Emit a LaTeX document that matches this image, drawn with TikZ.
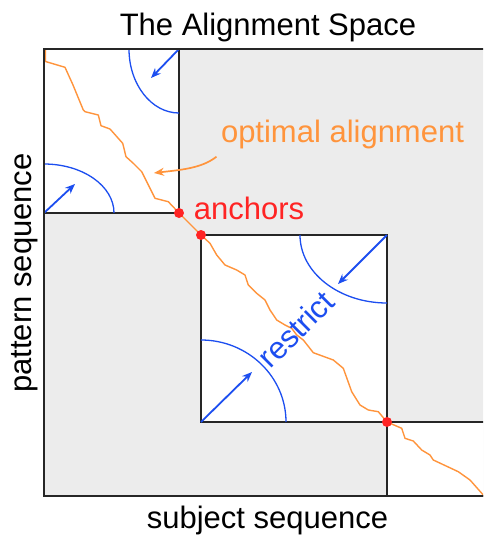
\documentclass[tikz,border=0pt]{standalone}
\usepackage{fontspec}
\setmainfont{Liberation Sans}
\usetikzlibrary{arrows.meta, positioning}

\definecolor{spacegray}{RGB}{236,236,236}
\definecolor{pathorange}{RGB}{255,148,60}
\definecolor{restrictblue}{RGB}{28,78,240}
\definecolor{anchorred}{RGB}{255,36,36}

\begin{document}
\begin{tikzpicture}[x=1pt, y=-1pt,
    label/.style={font=\fontsize{31}{37}\selectfont},
    box/.style={draw=black!85, line width=1.6pt, fill=white},
    contour/.style={draw=restrictblue, line width=1.3pt},
    shrink/.style={draw=restrictblue, line width=1.8pt, -{Stealth[length=10pt, width=8pt]}},
    aligned/.style={draw=pathorange, line width=1.4pt, line join=round},
    anchordot/.style={circle, fill=anchorred, inner sep=0pt, minimum size=10pt}
]
\useasboundingbox (0,0) rectangle (483,536);
\clip (0,0) rectangle (483,536);

% Corners of the space and the anchor points
\coordinate (space nw) at (44,49);
\coordinate (space se) at (495,496);
\coordinate (a1) at (179,213);
\coordinate (a2) at (201,235);
\coordinate (a3) at (387,422);

% Alignment space
\fill[spacegray] (space nw) rectangle (space se);

% Allowed regions
\draw[box] (space nw) rectangle (a1);
\draw[box] (a2) rectangle (a3);
\draw[box] (a3) rectangle (space se);

% Restriction contours, box 1
\draw[contour] (129,49) .. controls (129,84.3) and (151.4,113) .. (179,113);
\draw[contour] (44,164) .. controls (82.7,164) and (114,185.9) .. (114,213);
\coordinate (s1) at (151,78);
\coordinate (s2) at (75,184);
\draw[shrink] (a1 |- space nw) -- (s1);
\draw[shrink] (space nw |- a1) -- (s2);

% Restriction contours, box 2
\draw[contour] (300,235) .. controls (300,272.6) and (339,303) .. (387,303);
\draw[contour] (201,340) .. controls (247.9,340) and (286,376.7) .. (286,422);
\coordinate (s3) at (338,284);
\coordinate (s4) at (252,372);
\draw[shrink] (a3 |- a2) -- (s3);
\draw[shrink] (a2 |- a3) -- (s4);

% Optimal alignment path
\draw[aligned] (45.5,49) -- (45.5,61.5) -- (65,67.3) -- (73,85) -- (83.3,110) -- (85,111.7)
    -- (98.3,115) -- (101,125.7) -- (110,129) -- (122.7,143.3) -- (126,156.7) -- (133.3,163.3)
    -- (141.7,171.7) -- (146.7,181.7) -- (155,198.3) -- (168.3,201.7) -- (a1) -- (a2)
    -- (210,243.3) -- (216.7,255) -- (225,265) -- (236.7,270) -- (245,275) -- (248.3,285)
    -- (256.7,293.3) -- (265,300) -- (270,310) -- (276.7,320) -- (285,325) -- (291.7,328.3)
    -- (296.7,335) -- (303.3,340) -- (313.3,352.7) -- (333.3,360) -- (343.3,368.3)
    -- (351.7,391.7) -- (360,405) -- (368.3,410) -- (378.3,411.7) -- (a3)
    -- (401.7,428.3) -- (405,438.3) -- (413.3,441) -- (421.7,450) -- (430,455) -- (433.3,460)
    -- (458.3,471.7) -- (470,480) -- (483.3,495) -- (486,499);

% Outer frame
\draw[line width=2pt, black!85] (space se |- space nw) -| (space nw |- space se) -- (space se);

% Anchors
\node[anchordot] (dot1) at (a1) {};
\node[anchordot] (dot2) at (a2) {};
\node[anchordot] (dot3) at (a3) {};

% Labels
\node[label, anchor=base] (title) at (268,35.7) {The Alignment Space};
\node[label, anchor=base, text=pathorange] (optlabel) at (342.5,142.7) {optimal alignment};
\node[label, anchor=base, text=anchorred] (anchorlabel) at (249,219.5) {anchors};
\node[label, anchor=base] (xlabel) at (267.5,528.3) {subject sequence};
\node[label, anchor=base, rotate=90] (ylabel) at (31.5,273) {pattern sequence};
\node[label, text=restrictblue, rotate=45] (restrictlabel) at (296,329) {restrict};

% Pointer to the path
\coordinate (optarrow) at (154,173);
\draw[aligned, line width=1.7pt, -{Stealth[length=10pt, width=8pt]}] ([shift={(-1,4)}]optlabel.south west)
    .. controls +(-15,12) and +(25,-3) .. (optarrow);

\end{tikzpicture}
\end{document}
